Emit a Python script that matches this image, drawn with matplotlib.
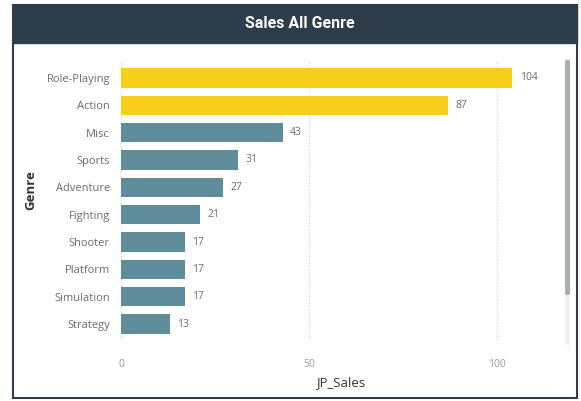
import matplotlib
matplotlib.use("Agg")
import matplotlib.pyplot as plt
from matplotlib.patches import Rectangle, FancyBboxPatch

genres = ["Role-Playing", "Action", "Misc", "Sports", "Adventure",
          "Fighting", "Shooter", "Platform", "Simulation", "Strategy"]
jp_sales = [104, 87, 43, 31, 27, 21, 17, 17, 17, 13]
highlight = ["Role-Playing", "Action"]
xticks = [0, 50, 100]

YELLOW = "#F7CE1A"
TEAL = "#5E8C9A"
DARK = "#2E3D4C"
GRAY = "#6b6b6b"

plt.rcParams['font.family'] = ['Open Sans', 'DejaVu Sans']

fig = plt.figure(figsize=(5.81, 4.01), dpi=100)
W, H = 581, 401

def fx(px):
    return px / W

def fy(py):
    return 1 - py / H

# panel border
fig.patches.append(Rectangle((fx(13), fy(398)), fx(577) - fx(13), fy(5) - fy(398),
                             transform=fig.transFigure, facecolor="white",
                             edgecolor=DARK, linewidth=1.5, zorder=-5))
# title bar
fig.patches.append(Rectangle((fx(13), fy(43)), fx(577) - fx(13), fy(5) - fy(43),
                             transform=fig.transFigure, facecolor=DARK,
                             edgecolor=DARK, linewidth=1, zorder=1))
fig.text(fx(300), fy(24), "Sales All Genre", color="white", fontsize=11.5,
         fontweight="bold", ha="center", va="center", family=["Roboto", "DejaVu Sans"],
         zorder=2)

ax = fig.add_axes([fx(121), fy(340), fx(561) - fx(121), fy(62) - fy(340)])
ax.patch.set_alpha(0)
ypos = list(range(len(genres)))
colors = [YELLOW if g in highlight else TEAL for g in genres]
ax.barh(ypos, jp_sales, height=0.7, color=colors, zorder=2)
ax.set_ylim(len(genres) - 1 + 0.585, -0.585)
ax.set_xlim(0, 117)
ax.set_yticks(ypos)
ax.set_yticklabels(genres, fontsize=8, color=GRAY)
ax.set_xticks(xticks)
ax.set_xticklabels([str(t) for t in xticks], fontsize=7.5, color="#999999")
ax.tick_params(axis="both", length=0)
ax.tick_params(axis="y", pad=8)
ax.tick_params(axis="x", pad=14)
for s in ax.spines.values():
    s.set_visible(False)
ax.grid(axis="x", linestyle=(0, (1, 2)), color="#cccccc", linewidth=0.8, zorder=0)
ax.set_axisbelow(True)
for y, v in zip(ypos, jp_sales):
    ax.text(v + 2, y, str(v), va="center", ha="left", fontsize=7.5, color=GRAY)
ax.set_xlabel("JP_Sales", fontsize=9.5, color="#333333", labelpad=4)
fig.text(fx(31), fy(190), "Genre", rotation=90, fontsize=9.5, color="#333333",
         fontweight="bold", ha="center", va="center")

# scrollbar
fig.patches.append(Rectangle((fx(565), fy(345)), fx(5), fy(58) - fy(345),
                             transform=fig.transFigure, facecolor="#eef0f2",
                             edgecolor="none", zorder=3))
fig.patches.append(FancyBboxPatch((fx(565), fy(295)), fx(5), fy(60) - fy(295),
                                  boxstyle="round,pad=0,rounding_size=0.004",
                                  transform=fig.transFigure, facecolor="#a9aeb3",
                                  edgecolor="none", zorder=4))

fig.savefig("out.png", dpi=100)
